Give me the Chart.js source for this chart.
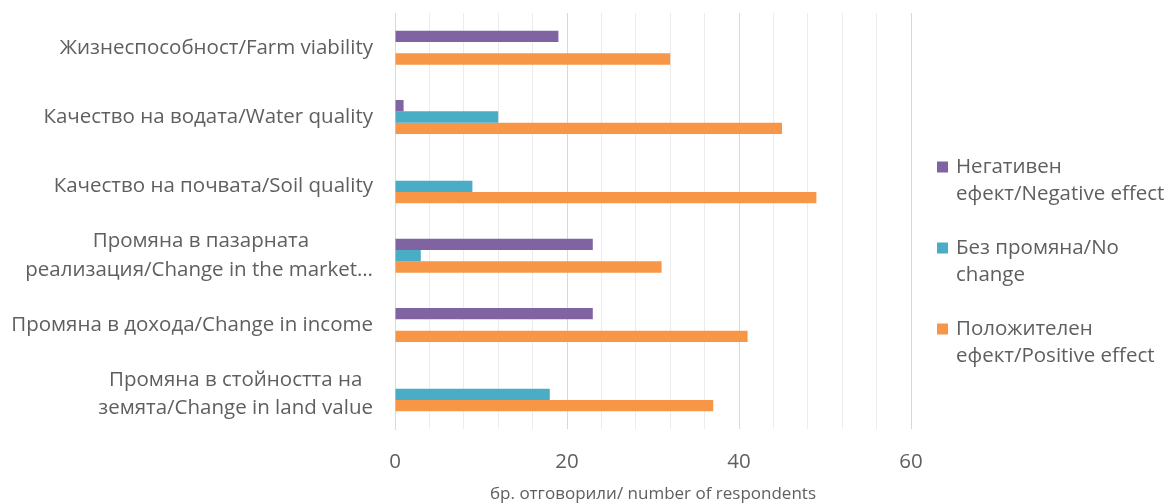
<!DOCTYPE html>
<html>
<head>
<meta charset="utf-8">
<script src="https://cdn.jsdelivr.net/npm/chart.js@4/dist/chart.umd.min.js"></script>
<style>
  html, body { margin: 0; padding: 0; background: #fff; }
  #wrap { width: 1171px; height: 504px; }
</style>
</head>
<body>
<div id="wrap"><canvas id="chart" width="1171" height="504"></canvas></div>
<script>
'use strict'

// categories (top to bottom), multi-line ones as arrays
const categories = [
    'Жизнеспособност/Farm viability',
    'Качество на водата/Water quality',
    'Качество на почвата/Soil quality',
    ['Промяна в пазарната', 'реализация/Change in the market…'],
    'Промяна в дохода/Change in income',
    ['Промяна в стойността на', 'земята/Change in land value']
];

const seriesNames = [
    ['Негативен', 'ефект/Negative effect'],
    ['Без промяна/No', 'change'],
    ['Положителен', 'ефект/Positive effect']
];

const negative = [19, 1, 0, 23, 23, 0];
const noChange = [0, 12, 9, 3, 0, 18];
const positive = [32, 45, 49, 31, 41, 37];

const tickLabels = [0, 20, 40, 60];
const axisTitle = 'бр. отговорили/ number of respondents';

const colors = ['#8064A2', '#4BACC6', '#F79646'];
const textColor = '#5f5f5f';
const fontFamily = "'Open Sans', 'DejaVu Sans', sans-serif";
const fontSize = 20.5;

// Excel centres the lines of a wrapped label, chart.js right-aligns them;
// pad the shorter lines with trailing spaces so they sit in the middle
const measure = document.createElement('canvas').getContext('2d');
measure.font = fontSize + 'px ' + fontFamily;
function centreLines(label) {
    if (!Array.isArray(label)) return label;
    const widths = label.map(function (l) { return measure.measureText(l).width; });
    const maxW = Math.max.apply(null, widths);
    const sp = measure.measureText(' ').width;
    return label.map(function (l, i) {
        const n = Math.round((maxW - widths[i]) / 2 / sp);
        return l + ' '.repeat(n);
    });
}

// legend drawn by hand so that the labels can wrap on two lines like in Excel
const sideLegend = {
    id: 'sideLegend',
    afterDraw(chart, args, opts) {
        const ctx = chart.ctx;
        ctx.save();
        ctx.font = fontSize + 'px ' + fontFamily;
        ctx.textBaseline = 'middle';
        ctx.textAlign = 'left';
        chart.data.datasets.forEach(function (ds, i) {
            const y = opts.top + i * opts.itemGap;
            ctx.fillStyle = ds.backgroundColor;
            ctx.fillRect(opts.left, y - opts.box / 2, opts.box, opts.box);
            ctx.fillStyle = textColor;
            seriesNames[i].forEach(function (line, j) {
                ctx.fillText(line, opts.left + opts.box + opts.gap, y + j * opts.lineHeight);
            });
        });
        ctx.restore();
    }
};

let ctx = document.getElementById('chart');
new Chart(ctx, {
    type: 'bar',
    data: {
        labels: categories,
        datasets: [
            { label: seriesNames[0].join(' '), data: negative, backgroundColor: colors[0] },
            { label: seriesNames[1].join(' '), data: noChange, backgroundColor: colors[1] },
            { label: seriesNames[2].join(' '), data: positive, backgroundColor: colors[2] }
        ]
    },
    options: {
        indexAxis: 'y',
        responsive: false,
        animation: false,
        categoryPercentage: 0.49,
        barPercentage: 1.0,
        layout: {
            padding: { top: 13, right: 260, left: 0, bottom: 0 }
        },
        scales: {
            x: {
                min: 0,
                max: 60,
                afterFit: function (scale) { scale.height = 75; },
                ticks: {
                    stepSize: 4,
                    autoSkip: false,
                    maxRotation: 0,
                    padding: 21,
                    color: textColor,
                    font: { family: fontFamily, size: fontSize },
                    callback: function (v) { return tickLabels.includes(v) ? String(v) : ''; }
                },
                grid: {
                    drawTicks: false,
                    lineWidth: 1,
                    color: function (c) {
                        return c.tick && tickLabels.includes(c.tick.value) ? '#d9d9d9' : '#ececec';
                    }
                },
                border: { display: false },
                title: {
                    display: true,
                    text: axisTitle,
                    color: textColor,
                    font: { family: fontFamily, size: 17 },
                    padding: { top: 0, bottom: 0 }
                }
            },
            y: {
                afterFit: function (scale) {
                    scale.width = 395;
                    scale.paddingTop = 0;
                    scale.paddingBottom = 0;
                },
                ticks: {
                    padding: 22,
                    color: textColor,
                    font: { family: fontFamily, size: fontSize, lineHeight: 1.38 },
                    callback: function (v) { return centreLines(this.getLabelForValue(v)); }
                },
                grid: { display: false, drawTicks: false },
                border: { display: true, color: '#d9d9d9', width: 1 }
            }
        },
        plugins: {
            legend: { display: false },
            tooltip: { enabled: false },
            sideLegend: { left: 937, top: 167, itemGap: 81, lineHeight: 27, box: 11, gap: 8 }
        }
    },
    plugins: [sideLegend]
});
</script>
</body>
</html>
